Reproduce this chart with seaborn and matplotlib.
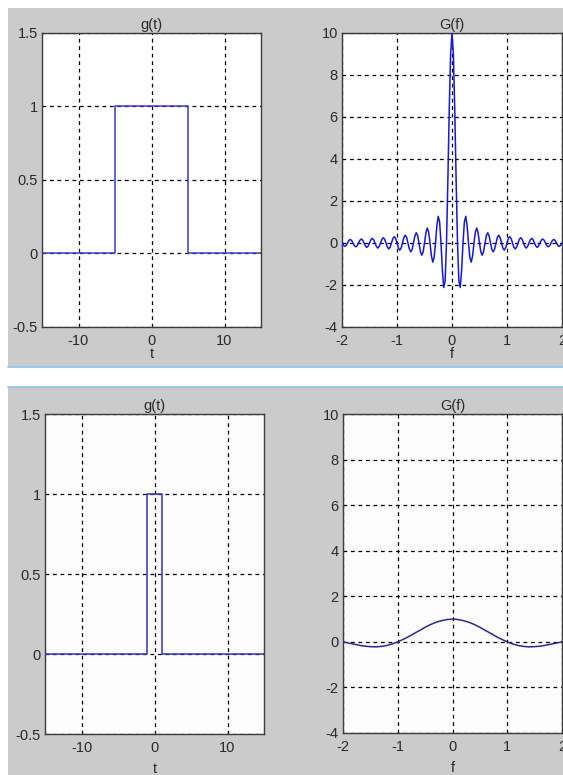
import numpy as np
import pandas as pd
import matplotlib
matplotlib.use("Agg")
import matplotlib.pyplot as plt
from matplotlib.patches import Rectangle
import seaborn as sns

# ---- data ----
# top row: wide pulse g(t) and its spectrum G(f)
t_top = [-15, -5, -5, 5, 5, 15]
g_top = [0, 0, 1, 1, 0, 0]

f_top = np.linspace(-2, 2, 161)
G_top = [0, -0.11, -0.16, -0.12, 0, 0.12, 0.17, 0.12, 0, -0.13,
         -0.18, -0.13, 0, 0.13, 0.19, 0.14, 0, -0.14, -0.21, -0.15,
         0, 0.15, 0.22, 0.16, 0, -0.16, -0.24, -0.17, 0, 0.18,
         0.25, 0.18, 0, -0.19, -0.28, -0.20, 0, 0.21, 0.30, 0.22,
         0, -0.23, -0.34, -0.24, 0, 0.26, 0.37, 0.27, 0, -0.29,
         -0.42, -0.31, 0, 0.33, 0.49, 0.36, 0, -0.39, -0.58, -0.43,
         0, 0.47, 0.71, 0.53, 0, -0.60, -0.91, -0.69, 0, 0.82,
         1.27, 1.00, 0, -1.29, -2.12, -1.80, 0, 3.00, 6.37, 9.00,
         10.0,
         9.00, 6.37, 3.00, 0, -1.80, -2.12, -1.29, 0, 1.00, 1.27,
         0.82, 0, -0.69, -0.91, -0.60, 0, 0.53, 0.71, 0.47, 0,
         -0.43, -0.58, -0.39, 0, 0.36, 0.49, 0.33, 0, -0.31, -0.42,
         -0.29, 0, 0.27, 0.37, 0.26, 0, -0.24, -0.34, -0.23, 0,
         0.22, 0.30, 0.21, 0, -0.20, -0.28, -0.19, 0, 0.18, 0.25,
         0.18, 0, -0.17, -0.24, -0.16, 0, 0.16, 0.22, 0.15, 0,
         -0.15, -0.21, -0.14, 0, 0.14, 0.19, 0.13, 0, -0.13, -0.18,
         -0.13, 0, 0.12, 0.17, 0.12, 0, -0.12, -0.16, -0.11, 0]

# bottom row: narrow pulse and its spectrum
t_bot = [-15, -1, -1, 1, 1, 15]
g_bot = [0, 0, 1, 1, 0, 0]

f_bot = np.linspace(-2, 2, 41)
G_bot = [0.00, -0.05, -0.10, -0.15, -0.19, -0.21, -0.22, -0.20, -0.16, -0.09,
         0.00, 0.11, 0.23, 0.37, 0.50, 0.64, 0.76, 0.86, 0.93, 0.98,
         1.00,
         0.98, 0.93, 0.86, 0.76, 0.64, 0.50, 0.37, 0.23, 0.11, 0.00,
         -0.09, -0.16, -0.20, -0.22, -0.21, -0.19, -0.15, -0.10, -0.05, 0.00]

g_xticks = [-10, 0, 10]
g_xlabels = ["-10", "0", "10"]
g_yticks = [-0.5, 0, 0.5, 1, 1.5]
g_ylabels = ["-0.5", "0", "0.5", "1", "1.5"]
G_xticks = [-2, -1, 0, 1, 2]
G_xlabels = ["-2", "-1", "0", "1", "2"]
G_yticks = [-4, -2, 0, 2, 4, 6, 8, 10]
G_ylabels = ["-4", "-2", "0", "2", "4", "6", "8", "10"]

W, H = 563, 775
BG = "#cbcbcb"
TXT = "#2a2a2a"
FS = 10.5

sns.set_theme(style="white")
plt.rcParams["font.family"] = ["Liberation Sans", "DejaVu Sans"]
plt.rcParams["font.size"] = FS


def box(x0, y0, x1, y1):
    # pixel box (from top-left) -> figure fraction
    return [x0 / W, 1 - y1 / H, (x1 - x0) / W, (y1 - y0) / H]


fig = plt.figure(figsize=(W / 100, H / 100), dpi=100, facecolor="white")

# the two grey window panels with their light-blue edges
fig.add_artist(Rectangle((8 / W, 1 - 367 / H), 555 / W, 359 / H,
                         transform=fig.transFigure, facecolor=BG, edgecolor="none", zorder=0))
fig.add_artist(Rectangle((8 / W, 0), 555 / W, 387 / H,
                         transform=fig.transFigure, facecolor=BG, edgecolor="none", zorder=0))
for yy in (367.5, 386.5):
    fig.add_artist(plt.Line2D([8 / W, 1], [1 - yy / H, 1 - yy / H], transform=fig.transFigure,
                              color="#8cc8e6", lw=1.3, zorder=1))

panels = [
    (box(42, 33, 261, 327), pd.DataFrame({"t": t_top, "g": g_top}), "t", "g", "g(t)", "#3a3ad0", "white", -1),
    (box(342, 33, 562, 327), pd.DataFrame({"f": f_top, "G": G_top}), "f", "G", "G(f)", "#1818d8", "white", -1),
    (box(45, 414, 264, 734), pd.DataFrame({"t": t_bot, "g": g_bot}), "t", "g", "g(t)", "#3535b8", "#fcfcfc", 5),
    (box(343, 414, 562, 733), pd.DataFrame({"f": f_bot, "G": G_bot}), "f", "G", "G(f)", "#2a2a8e", "#fcfcfc", 5),
]

for rect, df, xc, yc, title, col, face, lpad in panels:
    ax = fig.add_axes(rect, facecolor=face)
    sns.lineplot(data=df, x=xc, y=yc, ax=ax, color=col, lw=1.1,
                 sort=False, estimator=None, zorder=3)
    if yc == "g":
        ax.set_xlim(-15, 15)
        ax.set_ylim(-0.5, 1.5)
        ax.set_xticks(g_xticks, g_xlabels)
        ax.set_yticks(g_yticks, g_ylabels)
    else:
        ax.set_xlim(-2, 2)
        ax.set_ylim(-4, 10)
        ax.set_xticks(G_xticks, G_xlabels)
        ax.set_yticks(G_yticks, G_ylabels)
    ax.grid(True, color="black", linestyle=(0, (3, 3)), lw=0.9)
    ax.tick_params(direction="in", length=3, width=0.8, colors=TXT, labelsize=FS, pad=3)
    ax.tick_params(axis="x", pad=5)
    for s in ax.spines.values():
        s.set_color("#3c3c3c")
        s.set_linewidth(1.0)
        s.set_visible(True)
    ax.set_title(title, fontsize=FS, color=TXT, pad=3)
    ax.set_xlabel(xc, fontsize=FS, color=TXT, labelpad=lpad)
    ax.set_ylabel("")

fig.savefig("out.png", dpi=100, facecolor="white")
